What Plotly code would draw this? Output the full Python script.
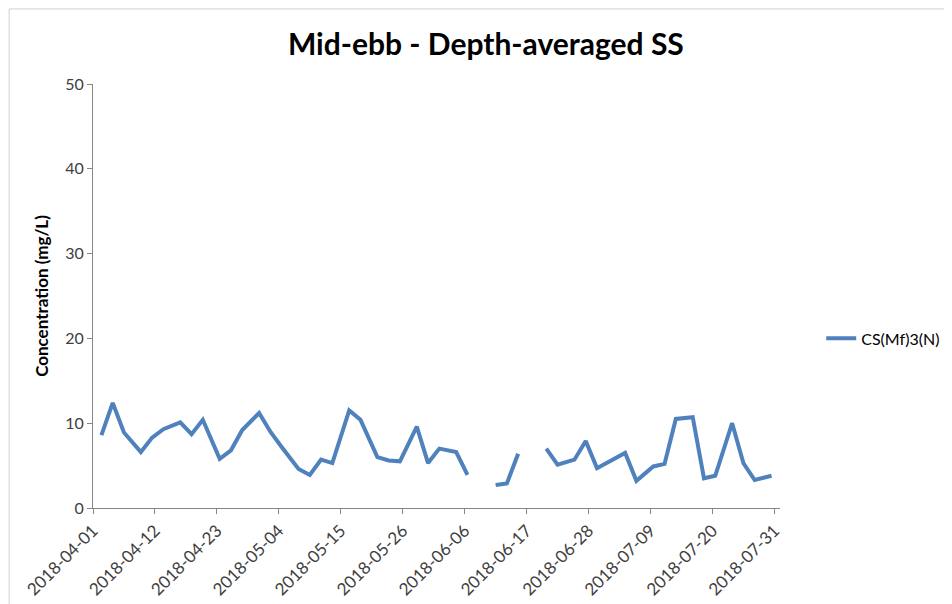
import pandas as pd
import plotly.graph_objects as go

# sampling dates (Mon/Wed/Fri, with a couple of missing surveys)
dates = [
    "2018-04-02", "2018-04-04", "2018-04-06", "2018-04-09", "2018-04-11", "2018-04-13",
    "2018-04-16", "2018-04-18", "2018-04-20", "2018-04-23", "2018-04-25", "2018-04-27",
    "2018-04-30", "2018-05-02", "2018-05-04", "2018-05-07", "2018-05-09", "2018-05-11",
    "2018-05-13", "2018-05-16", "2018-05-18", "2018-05-21", "2018-05-23", "2018-05-25",
    "2018-05-28", "2018-05-30", "2018-06-01", "2018-06-04", "2018-06-06", "2018-06-08",
    "2018-06-11", "2018-06-13", "2018-06-15", "2018-06-18", "2018-06-20", "2018-06-22",
    "2018-06-25", "2018-06-27", "2018-06-29", "2018-07-04", "2018-07-06", "2018-07-09",
    "2018-07-11", "2018-07-13", "2018-07-16", "2018-07-18", "2018-07-20", "2018-07-23",
    "2018-07-25", "2018-07-27", "2018-07-30",
]
ss_cs_mf3_n = [
    8.6, 12.4, 8.9, 6.6, 8.3, 9.3,
    10.1, 8.7, 10.4, 5.8, 6.8, 9.2,
    11.2, 9.0, 7.2, 4.6, 3.9, 5.7,
    5.3, 11.5, 10.4, 6.0, 5.6, 5.5,
    9.6, 5.3, 7.0, 6.6, 3.9, None,
    2.7, 2.9, 6.4, None, 7.0, 5.1,
    5.7, 7.9, 4.7, 6.5, 3.2, 4.9,
    5.2, 10.5, 10.7, 3.5, 3.8, 10.0,
    5.3, 3.3, 3.8,
]
series_name = "CS(Mf)3(N)"

# Excel date axis draws each point in the middle of its day
x = pd.to_datetime(dates) + pd.Timedelta(hours=12)

axis_grey = "#868686"
text_grey = "#404040"
font_family = "Lato, 'Open Sans', sans-serif"

fig = go.Figure()
fig.add_trace(go.Scatter(
    x=x,
    y=ss_cs_mf3_n,
    mode="lines",
    name=series_name,
    line=dict(color="#4F81BD", width=4),
    connectgaps=False,
))

fig.update_layout(
    width=952,
    height=604,
    paper_bgcolor="white",
    plot_bgcolor="white",
    font=dict(family=font_family, size=13, color=text_grey),
    title=dict(
        text="<b>Mid-ebb - Depth-averaged SS</b>",
        x=0.502, xanchor="center", y=0.940, yanchor="middle",
        font=dict(size=30, color="black", family=font_family),
    ),
    margin=dict(l=85, r=180, t=76, b=104),
    showlegend=True,
    legend=dict(
        x=1.06, xanchor="left", y=0.40, yanchor="middle",
        font=dict(size=16, color="black"),
        bgcolor="rgba(0,0,0,0)",
    ),
    shapes=[dict(
        type="rect", xref="paper", yref="paper",
        x0=-0.122, x1=1.3, y0=-0.3, y1=1.177,
        line=dict(color="#d0d0d0", width=1),
        layer="below",
    )],
)

fig.update_xaxes(
    type="date",
    range=["2018-04-01", "2018-08-01"],
    tick0="2018-04-01",
    dtick=11 * 86400000,
    tickformat="%Y-%m-%d",
    tickangle=-45,
    showgrid=False,
    showline=True,
    linecolor=axis_grey,
    linewidth=1,
    ticks="outside",
    ticklen=5,
    tickcolor=axis_grey,
    tickfont=dict(size=17, color=text_grey),
    zeroline=False,
    automargin=False,
)

fig.update_yaxes(
    range=[0, 50],
    dtick=10,
    showgrid=False,
    showline=True,
    linecolor=axis_grey,
    linewidth=1,
    ticks="outside",
    ticklen=5,
    tickcolor=axis_grey,
    tickfont=dict(size=16, color=text_grey),
    zeroline=False,
    automargin=False,
    title=dict(
        text="<b>Concentration (mg/L)</b>",
        font=dict(size=17, color="black"),
        standoff=12,
    ),
)

fig.write_html("out.html")
